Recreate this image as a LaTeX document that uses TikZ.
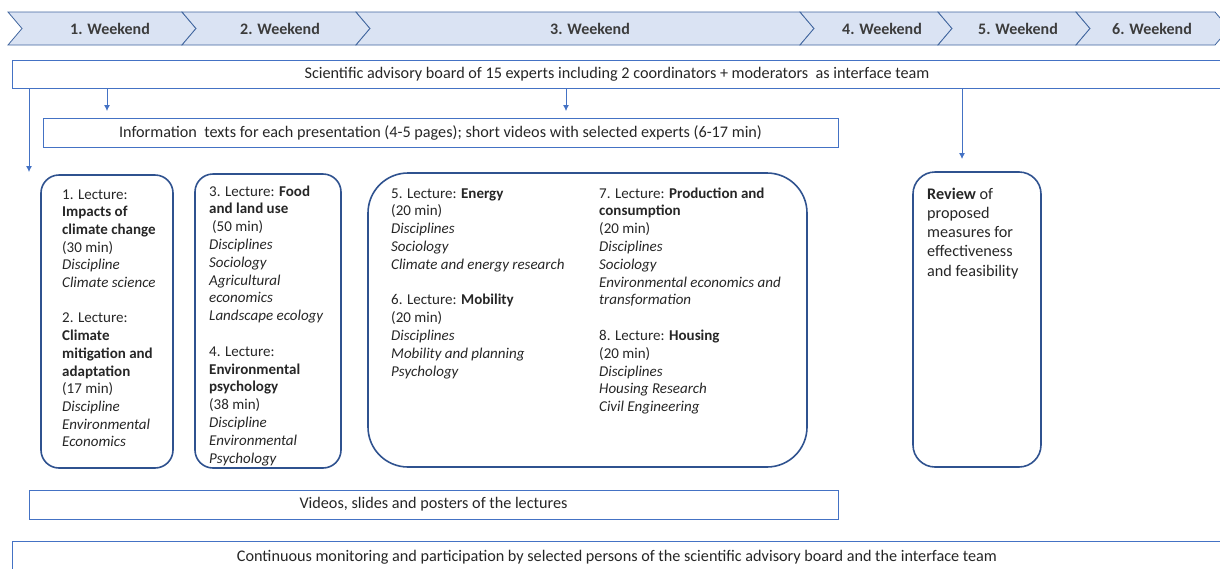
\documentclass[tikz,border=0pt]{standalone}
\usepackage{fontspec}
\setmainfont{Carlito}
\usetikzlibrary{arrows.meta,calc}
\definecolor{chevfill}{HTML}{DAE3F3}
\definecolor{chevline}{HTML}{41669F}
\definecolor{boxline}{HTML}{4472C4}
\definecolor{lecline}{HTML}{2F528F}
\definecolor{txt}{HTML}{262626}
\begin{document}
\begin{tikzpicture}[x=1pt,y=-1pt,
  chev/.style={fill=chevfill, draw=chevline, line width=0.8pt},
  weektext/.style={font=\fontsize{16}{18}\selectfont\bfseries, text=txt!90, inner sep=0},
  plainbox/.style={draw=boxline, line width=0.8pt, inner sep=0, font=\fontsize{16.2}{18}\selectfont, text=txt},
  lecbox/.style={draw=lecline, line width=1.6pt, inner sep=0},
  lectext/.style={anchor=base west, inner sep=0, text=txt},
  arr/.style={draw=boxline, line width=0.8pt, -{Latex[length=6pt,width=6pt]}}]
\clip (0,0) rectangle (1220,568);
\useasboundingbox (0,0) rectangle (1220,568);

% chevrons
\foreach \a/\b/\c/\lab/\nm in {8/182/110/1. Weekend/w1, 182/356/280/2. Weekend/w2, 356/800/590/3. Weekend/w3, 800/938/882/4. Weekend/w4, 938/1076/1018/5. Weekend/w5, 1076/1215/1152/6. Weekend/w6}{
  \draw[chev] (\a,12) -- (\b,12) -- (\b+14,28.5) -- (\b,45) -- (\a,45) -- (\a+14,28.5) -- cycle;
  \node[weektext] (\nm) at (\c,28.5) {\lab};
}

% boxes
\node[plainbox, minimum width=1210pt, minimum height=28pt] (board) at (617,74) {Scientific advisory board of 15 experts including 2 coordinators + moderators\ \ as interface team};
\node[plainbox, minimum width=795pt, minimum height=29pt] (info) at (440.5,132.5) {Information\ \ texts for each presentation (4-5 pages); short videos with selected experts (6-17 min)};
\node[plainbox, minimum width=809pt, minimum height=29pt] (videos) at (433.5,504.5) {Videos, slides and posters of the lectures};
\node[plainbox, minimum width=1210pt, minimum height=32pt] (cont) at (617,557) {Continuous monitoring and participation by selected persons of the scientific advisory board and the interface team};

% lecture boxes
\node[lecbox, rounded corners=18pt, minimum width=132pt, minimum height=293pt] (L1) at (107,321.5) {};
\node[lecbox, rounded corners=18pt, minimum width=146pt, minimum height=294pt] (L2) at (268,321) {};
\node[lecbox, rounded corners=40pt, minimum width=439pt, minimum height=294pt] (L3) at (587.5,320) {};
\node[lecbox, rounded corners=22pt, minimum width=128pt, minimum height=295pt] (L4) at (977,319.5) {};

% arrows
\coordinate (c1) at (29,172);
\coordinate (c2) at (107,111);
\coordinate (c3) at (566,111);
\coordinate (c4) at (962,159);
\draw[arr] (board.south -| c1) -- (c1);
\draw[arr] (board.south -| c2) -- (c2);
\draw[arr] (board.south -| c3) -- (c3);
\draw[arr] (board.south -| c4) -- (c4);

% lecture texts
\node[lectext] (t1) at (62,199) {\parbox[t]{110pt}{\fontsize{15}{17.7}\selectfont
1. Lecture:\\ \textbf{Impacts of}\\ \textbf{climate change}\\ (30 min)\\ \textit{Discipline}\\ \textit{Climate science}\\[17.7pt]
2. Lecture:\\ \textbf{Climate}\\ \textbf{mitigation and}\\ \textbf{adaptation}\\ (17 min)\\ \textit{Discipline}\\ \textit{Environmental}\\ \textit{Economics}}};

\node[lectext] (t2) at (209,196) {\parbox[t]{130pt}{\fontsize{15}{17.8}\selectfont
3. Lecture: \textbf{Food}\\ \textbf{and land use}\\ \hspace*{3pt}(50 min)\\ \textit{Disciplines}\\ \textit{Sociology}\\ \textit{Agricultural}\\ \textit{economics}\\ \textit{Landscape ecology}\\[17.8pt]
4. Lecture:\\ \textbf{Environmental}\\ \textbf{psychology}\\ (38 min)\\ \textit{Discipline}\\ \textit{Environmental}\\ \textit{Psychology}}};

\node[lectext] (t3) at (391,198) {\parbox[t]{200pt}{\fontsize{15}{17.8}\selectfont
5. Lecture: \textbf{Energy}\\ (20 min)\\ \textit{Disciplines}\\ \textit{Sociology}\\ \textit{Climate and energy research}\\[17.8pt]
6. Lecture: \textbf{Mobility}\\ (20 min)\\ \textit{Disciplines}\\ \textit{Mobility and planning}\\ \textit{Psychology}}};

\node[lectext] (t4) at (599,198) {\parbox[t]{200pt}{\fontsize{15}{17.8}\selectfont
7. Lecture: \textbf{Production and}\\ \textbf{consumption}\\ (20 min)\\ \textit{Disciplines}\\ \textit{Sociology}\\ \textit{Environmental economics and}\\ \textit{transformation}\\[17.8pt]
8. Lecture: \textbf{Housing}\\ (20 min)\\ \textit{Disciplines}\\ \textit{Housing Research}\\ \textit{Civil Engineering}}};

\node[lectext] (t5) at (927,199) {\parbox[t]{110pt}{\fontsize{16.2}{19.3}\selectfont
\textbf{Review} of\\ proposed\\ measures for\\ effectiveness\\ and feasibility}};
\end{tikzpicture}
\end{document}
